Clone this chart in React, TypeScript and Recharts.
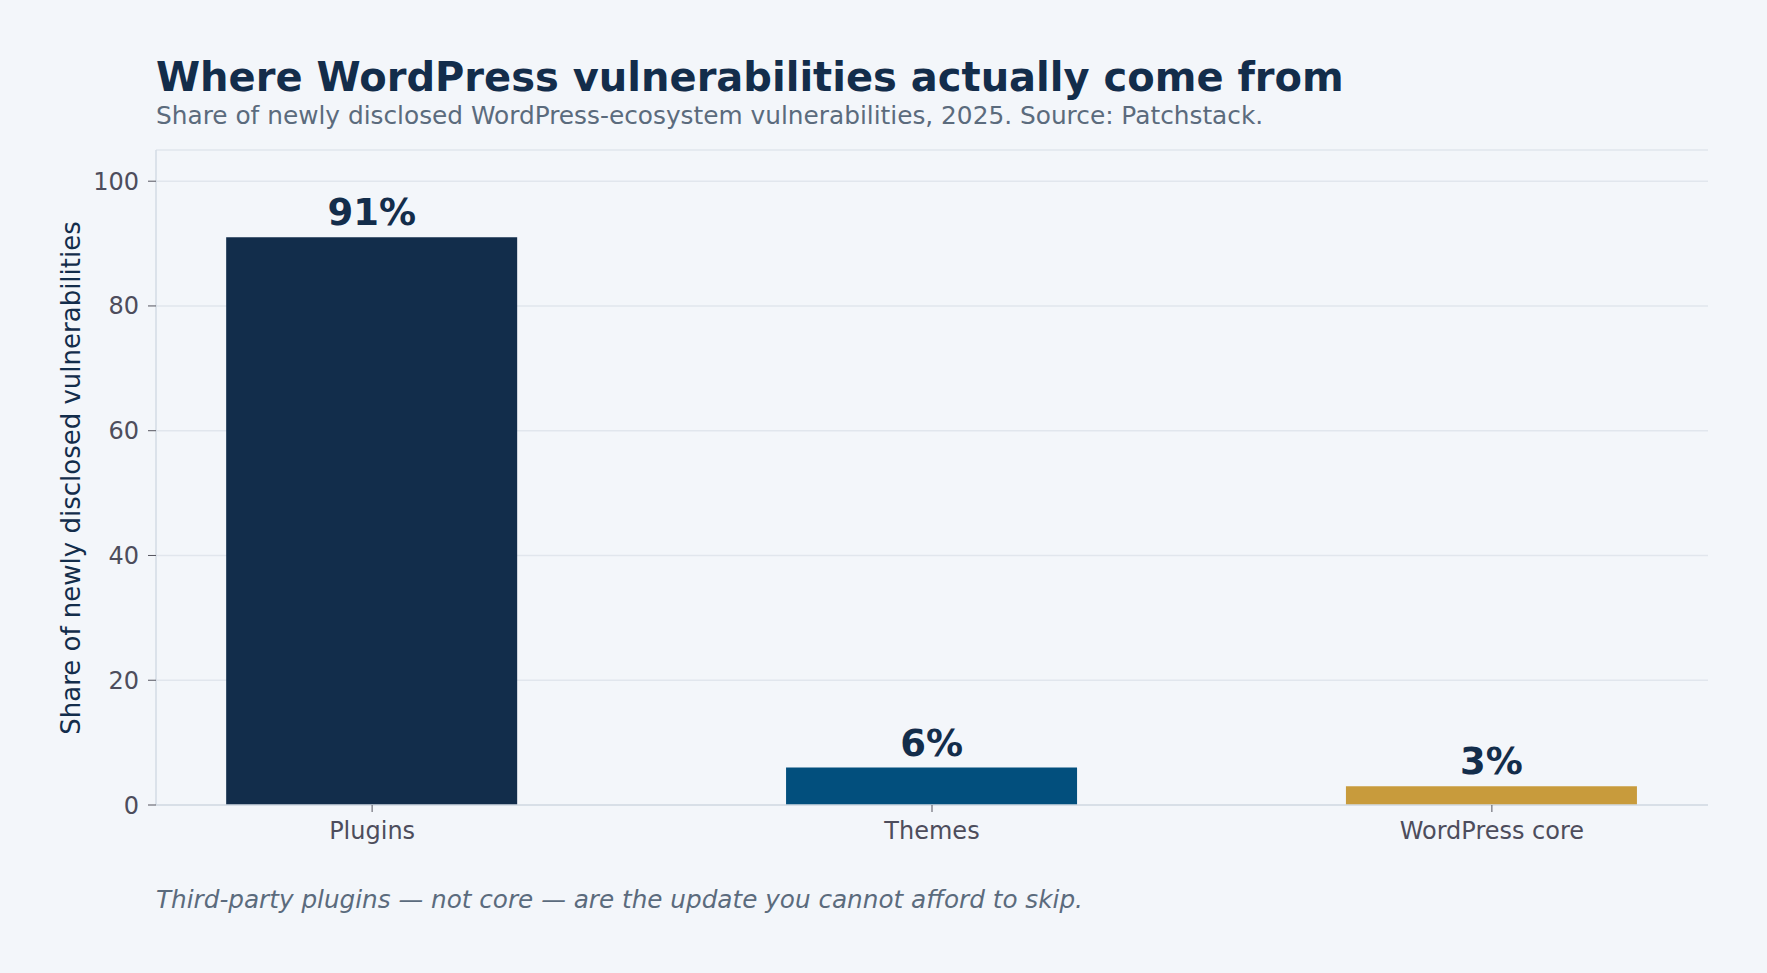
import React from "react";
import {
    BarChart,
    Bar,
    XAxis,
    YAxis,
    CartesianGrid,
    Cell,
    LabelList,
} from "recharts";

const categories = ["Plugins", "Themes", "WordPress core"];
const shares = [91, 6, 3];
const barColors = ["#122d4b", "#024f7d", "#c89b3c"];
const yTicks = [0, 20, 40, 60, 80, 100];

const FONT = "DejaVu Sans";
const NAVY = "#132d4b";
const GREY = "#5b6b7d";
const TICK = "#4d4d5c";
const SPINE = "#d3dbe4";

const data = categories.map((name, i) => ({ pos: i, name, share: shares[i] }));

export default function App() {
    return (
        <div
            style={{
                position: "absolute",
                left: 0,
                top: 0,
                width: 1767,
                height: 973,
                background: "#f3f6fa",
                fontFamily: FONT,
            }}
        >
            <BarChart
                width={1767}
                height={973}
                data={data}
                margin={{ top: 150, right: 59, bottom: 108, left: 76 }}
            >
                <CartesianGrid vertical={false} stroke="#e1e6ed" strokeWidth={1.5} />
                <XAxis
                    type="number"
                    dataKey="pos"
                    domain={[-0.386, 2.386]}
                    ticks={[0, 1, 2]}
                    allowDataOverflow
                    tickFormatter={(v: number) => categories[v]}
                    height={60}
                    tickSize={7}
                    tickMargin={10}
                    tickLine={{ stroke: "#55555f" }}
                    axisLine={{ stroke: SPINE, strokeWidth: 1.5 }}
                    tick={{ fill: TICK, fontSize: 24, fontFamily: FONT }}
                />
                <YAxis
                    type="number"
                    domain={[0, 105]}
                    ticks={yTicks}
                    width={80}
                    tickSize={8}
                    tickMargin={9}
                    tickLine={{ stroke: "#55555f" }}
                    axisLine={{ stroke: SPINE, strokeWidth: 1.5 }}
                    tick={{ fill: TICK, fontSize: 24, fontFamily: FONT }}
                />
                <Bar dataKey="share" barSize={291} isAnimationActive={false}>
                    {data.map((d, i) => (
                        <Cell key={d.name} fill={barColors[i]} />
                    ))}
                    <LabelList
                        dataKey="share"
                        position="top"
                        offset={12}
                        formatter={(v: number) => `${v}%`}
                        style={{ fill: NAVY, fontSize: 37, fontWeight: 700, fontFamily: FONT }}
                    />
                </Bar>
            </BarChart>
            <svg
                width={1767}
                height={973}
                style={{ position: "absolute", left: 0, top: 0, pointerEvents: "none" }}
            >
                <text x={156} y={91} fill={NAVY} fontSize={40} fontWeight={700} fontFamily={FONT}>
                    Where WordPress vulnerabilities actually come from
                </text>
                <text x={156} y={124} fill={GREY} fontSize={24.8} fontFamily={FONT}>
                    Share of newly disclosed WordPress-ecosystem vulnerabilities, 2025. Source: Patchstack.
                </text>
                <text
                    x={80}
                    y={478}
                    fill={NAVY}
                    fontSize={26}
                    fontFamily={FONT}
                    textAnchor="middle"
                    transform="rotate(-90, 80, 478)"
                >
                    Share of newly disclosed vulnerabilities
                </text>
                <text x={156} y={908} fill={GREY} fontSize={24.7} fontStyle="italic" fontFamily={FONT}>
                    Third-party plugins — not core — are the update you cannot afford to skip.
                </text>
            </svg>
        </div>
    );
}
